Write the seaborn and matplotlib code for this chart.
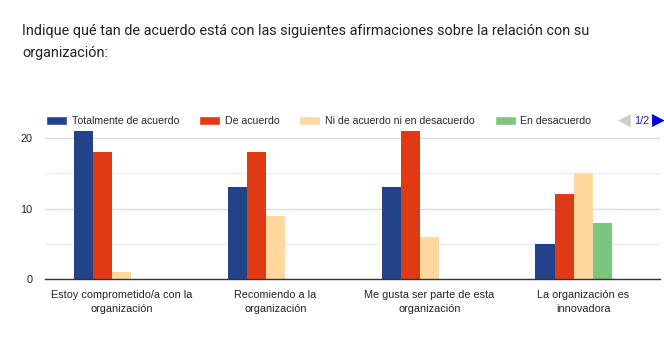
import matplotlib
matplotlib.use("Agg")
import matplotlib.pyplot as plt
import seaborn as sns
import pandas as pd
from matplotlib.patches import Patch

title = "Indique qué tan de acuerdo está con las siguientes afirmaciones sobre la relación con su\norganización:"
categories = ["Estoy comprometido/a con la\norganización",
              "Recomiendo a la\norganización",
              "Me gusta ser parte de esta\norganización",
              "La organización es\ninnovadora"]
series = ["Totalmente de acuerdo", "De acuerdo", "Ni de acuerdo ni en desacuerdo",
          "En desacuerdo", "Totalmente en desacuerdo"]
totalmente_de_acuerdo = [21, 13, 13, 5]
de_acuerdo = [18, 18, 21, 12]
ni_ni = [1, 9, 6, 15]
en_desacuerdo = [0, 0, 0, 8]
totalmente_en_desacuerdo = [0, 0, 0, 0]
yticks = [0, 10, 20]
colors = ["#22428a", "#e03a14", "#fed89f", "#7dc57f", "#9c3d9a"]

values = [totalmente_de_acuerdo, de_acuerdo, ni_ni, en_desacuerdo, totalmente_en_desacuerdo]
rows = []
for s, vals in zip(series, values):
    for c, v in zip(categories, vals):
        rows.append({"cat": c, "serie": s, "val": v})
df = pd.DataFrame(rows)

sns.set_style("white")
plt.rcParams["font.family"] = ["Liberation Sans", "DejaVu Sans"]

fig = plt.figure(figsize=(6.64, 3.46), dpi=100)
ax = fig.add_axes([45/664, 1 - 279/346, (660 - 45)/664, 155/346])

sns.barplot(data=df, x="cat", y="val", hue="serie", palette=colors, ax=ax,
            width=0.62, linewidth=0, legend=False, errorbar=None, saturation=1)

ax.set_ylim(0, 22)
ax.set_xlim(-0.5, 3.5)
ax.set_yticks(yticks)
ax.set_yticks([5, 15], minor=True)
ax.grid(axis="y", which="major", color="#dddddd", linewidth=1)
ax.grid(axis="y", which="minor", color="#eeeeee", linewidth=1)
ax.set_axisbelow(True)
for sp in ["top", "right", "left"]:
    ax.spines[sp].set_visible(False)
ax.spines["bottom"].set_color("#333333")
ax.spines["bottom"].set_linewidth(1)
ax.set_xlabel("")
ax.set_ylabel("")
ax.tick_params(axis="both", length=0, labelsize=7.8, labelcolor="#222222")
ax.tick_params(axis="y", pad=9)
ax.tick_params(axis="x", pad=8)
for lab in ax.get_xticklabels():
    lab.set_linespacing(1.45)

fig.text(22/664, 1 - 24/346, title, fontsize=10.4, family=["Roboto", "DejaVu Sans"],
         color="#202124", va="top", ha="left", linespacing=1.75)

handles = [Patch(facecolor=c) for c in colors[:4]]
fig.legend(handles, series[:4], loc="center left", bbox_to_anchor=(42/664, 1 - 121/346),
           ncol=4, frameon=False, fontsize=7.55, handlelength=2.0, handleheight=1.0,
           handletextpad=0.45, columnspacing=1.9, borderaxespad=0)
fig.text(624/664, 1 - 121/346, "◀", color="#cccccc", fontsize=12, ha="center", va="center",
         family=["DejaVu Sans"])
fig.text(642/664, 1 - 121/346, "1/2", color="#1a1ad0", fontsize=7.8, ha="center", va="center")
fig.text(658/664, 1 - 121/346, "▶", color="#0000dd", fontsize=12, ha="center", va="center",
         family=["DejaVu Sans"])

fig.savefig("out.png", dpi=100)
